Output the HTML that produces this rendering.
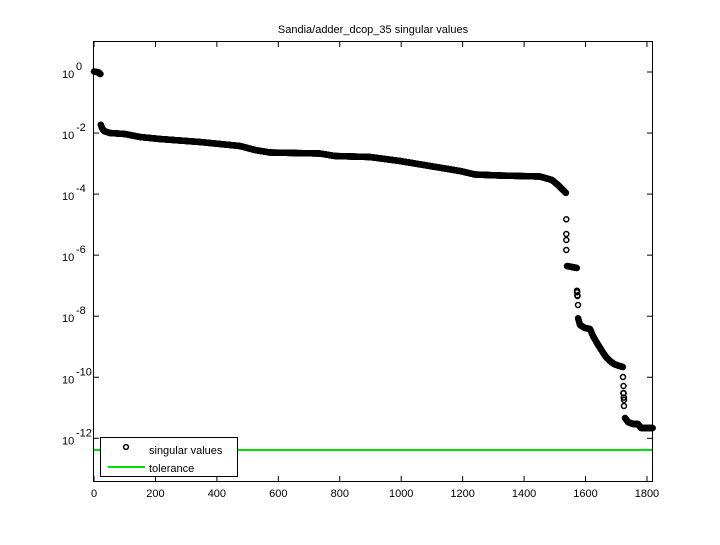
<!DOCTYPE html>
<html><head><style>
body{margin:0;background:#fff;}
svg text{font-family:"Liberation Sans",Arial,sans-serif;font-size:11px;fill:#000;}
</style></head><body>
<svg id="s" width="720" height="540" xmlns="http://www.w3.org/2000/svg">
<rect width="720" height="540" fill="#fff"/>
<text x="373" y="33" text-anchor="middle">Sandia/adder_dcop_35 singular values</text>
<g id="pts" fill="none" stroke="#000" stroke-width="1.5"></g>
<line x1="94" y1="450" x2="652.5" y2="450" stroke="#00e000" stroke-width="2"/>
<rect x="93.5" y="41.5" width="559" height="440" fill="none" stroke="#000" stroke-width="1"/>
<g id="ticks" stroke="#000" stroke-width="1"></g>
<g id="labels"></g>
<rect x="100.5" y="437.5" width="137" height="39" fill="#fff" stroke="#000"/>
<circle cx="126" cy="447" r="2.4" fill="none" stroke="#000" stroke-width="1.5"/>
<text x="149" y="454">singular values</text>
<line x1="108" y1="467" x2="145" y2="467" stroke="#00e000" stroke-width="2"/>
<text x="149" y="472">tolerance</text>
</svg>
<script>
var NS="http://www.w3.org/2000/svg";
function el(p,t,a,txt){var e=document.createElementNS(NS,t);for(var k in a)e.setAttribute(k,a[k]);if(txt!=null)e.textContent=txt;p.appendChild(e);return e;}
var tk=document.getElementById('ticks'),lb=document.getElementById('labels');
for(var i=0;i<=9;i++){var x=94+i*200*0.3072;
 el(tk,'line',{x1:x,y1:481,x2:x,y2:476});el(tk,'line',{x1:x,y1:42,x2:x,y2:47});
 el(lb,'text',{x:x,y:497,'text-anchor':'middle'},String(i*200));}
for(var d=0;d<=6;d++){var y=72+d*61.05;
 el(tk,'line',{x1:94,y1:y,x2:99,y2:y});el(tk,'line',{x1:652,y1:y,x2:647,y2:y});
 var t=el(lb,'text',{x:62,y:y+6},'10');
 el(lb,'text',{x:76,y:y-2,'font-size':'8px'},d==0?'0':'-'+(2*d));}
var cp=[[94,71.5],[99,72.5],[100,74],[100.5,124],[102,128],[104,131],[110,133],[125,134],[140,137],[160,139],[200,142],[240,146],[255,150],[270,152.5],[320,153.5],[335,156],[370,157],[400,161],[430,166],[460,171],[475,174.5],[500,175.5],[540,176.5],[552,180],[558,185],[566,193]];
var g=document.getElementById('pts');
function c(x,y){el(g,'circle',{cx:x.toFixed(1),cy:y.toFixed(1),r:2.5});}
var dx=0.3072,j=0;
for(var x=94;x<=566;x+=dx){while(j<cp.length-2&&cp[j+1][0]<x)j++;var a=cp[j],b=cp[j+1];var f=(x-a[0])/(b[0]-a[0]);if(f<0)f=0;if(f>1)f=1;
 if(b[1]-a[1]>20&&f<1){c(x,a[1]);}else c(x,a[1]+(b[1]-a[1])*f);}
[[566.3,219.3],[566.3,234],[566.3,240],[566.3,250]].forEach(function(p){c(p[0],p[1]);});
var cp2=[[567,266],[572,267],[577,268],[577,290.7],[577.5,296],[578,305],[578,318],[580,325],[585,328],[590,329],[593,336],[597,343],[602,351],[606,357],[610,361],[614,364],[618,365.5],[623,367],[623,377],[623.5,386],[623.5,393],[624,400],[624,406],[625,418],[628,422],[633,424],[638,424],[641,428],[653,428]];
j=0;
for(var x=567;x<=653;x+=dx){while(j<cp2.length-2&&cp2[j+1][0]<x)j++;var a=cp2[j],b=cp2[j+1];var f=(x-a[0])/(b[0]-a[0]);if(f<0)f=0;if(f>1)f=1;
 if(b[1]-a[1]>8&&f>0&&f<1)continue;
 c(x,a[1]+(b[1]-a[1])*f);}
[[577,290.7],[577.5,296],[578,305],[623,377],[623.5,386],[623.5,393],[624,400],[624,406],[625,418]].forEach(function(p){c(p[0],p[1]);});
</script>
</body></html>
